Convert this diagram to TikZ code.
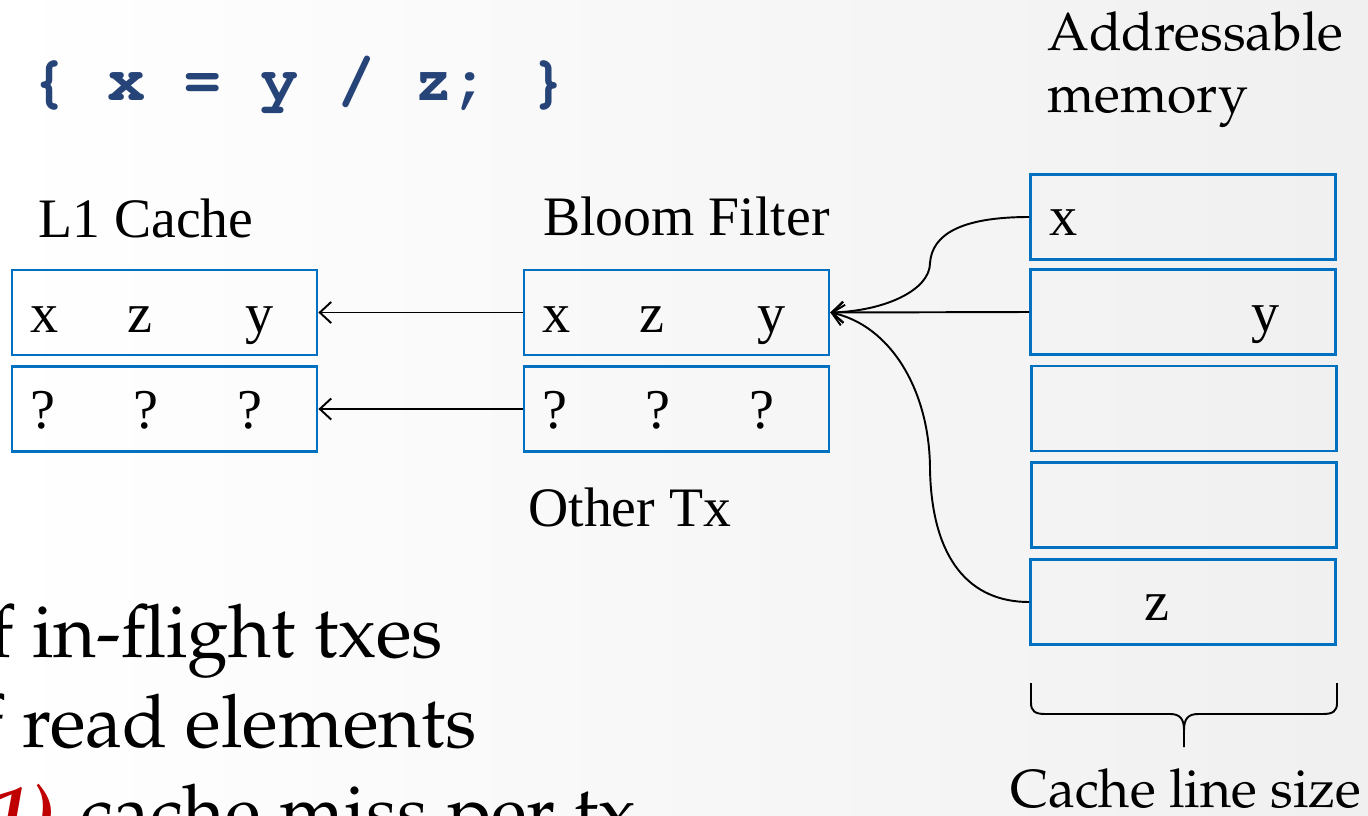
\documentclass[tikz,border=0pt]{standalone}
\usepackage[T1]{fontenc}
\usepackage{fontspec}
\setmainfont{Liberation Serif}
\setmonofont{Liberation Mono}
\usetikzlibrary{arrows.meta}
\newcommand{\palfont}{\fontencoding{T1}\fontfamily{ppl}\selectfont}
\newcommand{\courfont}{\fontencoding{T1}\fontfamily{pcr}\fontseries{b}\selectfont}
\definecolor{boxblue}{RGB}{0,112,192}
\definecolor{codeblue}{RGB}{38,68,120}
\definecolor{missred}{RGB}{192,0,0}

\begin{document}
\begin{tikzpicture}[x=0.02cm,y=-0.02cm,
  cell/.style={draw=boxblue,line width=1.6pt,minimum width=6.1cm,minimum height=1.7cm,inner sep=0pt},
  lbl/.style={anchor=base west,inner sep=0pt,font=\fontsize{31.7}{38}\selectfont},
  ch/.style={anchor=base,inner sep=0pt,font=\fontsize{32}{40}\selectfont},
  pal/.style={anchor=base west,inner sep=0pt,font=\palfont\fontsize{30.5}{36}\selectfont},
  big/.style={anchor=base west,inner sep=0pt,font=\palfont\fontsize{42}{50}\selectfont},
  arr/.style={line width=1.1pt,-{Straight Barb[length=6.5pt,width=12pt]}}]
  \useasboundingbox (0,0) rectangle (1368,815);
  \clip (0,0) rectangle (1368,815);
  \shade[left color=white,right color=black!6] (0,0) rectangle (1368,815);

  \node[anchor=base west,inner sep=0pt,text=codeblue,font=\courfont\fontsize{36.4}{44}\selectfont] (code) at (30,100) {\{ x = y / z; \}};

  \node[lbl] (l1t) at (38,237) {L1 Cache};
  \node[lbl] (bft) at (543,235) {Bloom Filter};
  \node[lbl] (ott) at (528,526) {Other Tx};
  \node[pal] (amt) at (1047,50) {Addressable};
  \node[pal] (amt2) at (1047,112) {memory};
  \node[pal] (cls) at (1010,807) {Cache line size};

  \node[cell] (l1a) at (164.5,312.5) {};
  \node[cell] (l1b) at (164.5,409) {};
  \node[cell] (bf1) at (676.5,312.5) {};
  \node[cell] (bf2) at (676.5,409) {};
  \node[cell] (m1) at (1183,217) {};
  \node[cell] (m2) at (1183,312) {};
  \node[cell] (m3) at (1184,408.5) {};
  \node[cell] (m4) at (1184,505) {};
  \node[cell] (m5) at (1183,602) {};

  \node[ch] (l1x) at (45,332) {x};
  \node[ch] (l1z) at (140,332) {z};
  \node[ch] (l1y) at (260,332) {y};
  \node[ch] (l1q1) at (43,428) {?};
  \node[ch] (l1q2) at (146,428) {?};
  \node[ch] (l1q3) at (250,428) {?};
  \node[ch] (bfx) at (557,332) {x};
  \node[ch] (bfz) at (652,332) {z};
  \node[ch] (bfy) at (772,332) {y};
  \node[ch] (bfq1) at (555,428) {?};
  \node[ch] (bfq2) at (658,428) {?};
  \node[ch] (bfq3) at (762,428) {?};
  \node[ch] (mx) at (1064,235) {x};
  \node[ch] (my) at (1266,331) {y};
  \node[ch] (mz) at (1157,620) {z};

  \draw[arr] (bf1.west) -- (l1a.east);
  \draw[arr] (bf2.west) -- (l1b.east);
  \draw[arr] (m2.west) -- (bf1.east);
  \coordinate (cx) at (930,263);
  \coordinate (cz) at (930,470);
  \draw[arr] (m1.west) .. controls (960,217) and (932,235) .. (cx)
    .. controls (930,290) and (885,311) .. (bf1.east);
  \draw[arr] (m5.west) .. controls (970,602) and (932,560) .. (cz)
    .. controls (930,390) and (890,325) .. (bf1.east);

  \draw[line width=1.1pt] (1031,683) -- (1031,703) .. controls (1031,711) and (1035,714) .. (1045,714)
    -- (1170,714) .. controls (1180,714) and (1184,719) .. (1184,730) -- (1184,747);
  \draw[line width=1.1pt] (1337,683) -- (1337,703) .. controls (1337,711) and (1333,714) .. (1323,714)
    -- (1198,714) .. controls (1188,714) and (1184,719) .. (1184,730);

  \node[big] (b1) at (-11,657) {f in-flight txes};
  \node[big] (b2) at (-21,747) {f read elements};
  \node[big,anchor=base east,text=missred,font=\palfont\fontsize{42}{50}\selectfont\bfseries\itshape] (b3a) at (54,837) {1)};
  \node[big] (b3) at (80,837) {cache miss per tx};
\end{tikzpicture}
\end{document}
